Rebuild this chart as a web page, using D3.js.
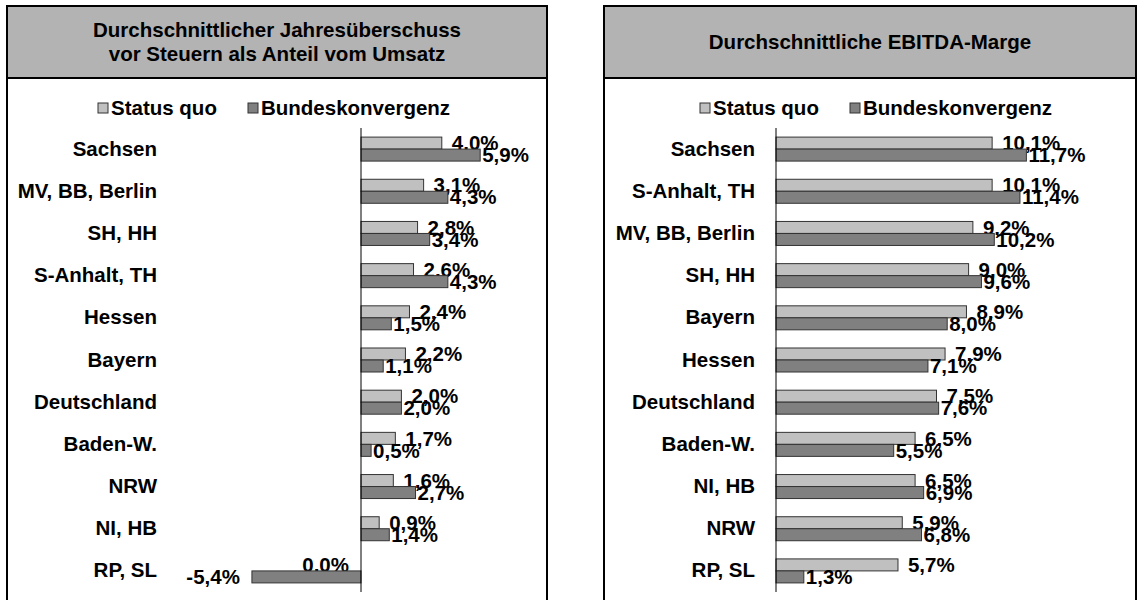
<!DOCTYPE html>
<html>
<head>
<meta charset="utf-8">
<script src="https://cdn.jsdelivr.net/npm/d3@7"></script>
<style>
    body { margin: 0; background: #fff; }
    svg { display: block; font-family: Arial, "Liberation Sans", sans-serif; font-weight: bold; }
</style>
</head>
<body>
<svg id="chart" width="1137" height="600"></svg>
<script>
/*---------------------------------- data ----------------------------------*/

var seriesNames = ["Status quo", "Bundeskonvergenz"];

//left panel: Jahresueberschuss vor Steuern
var regionsLeft = ["Sachsen", "MV, BB, Berlin", "SH, HH", "S-Anhalt, TH", "Hessen", "Bayern",
    "Deutschland", "Baden-W.", "NRW", "NI, HB", "RP, SL"];
var statusLeft = [4.0, 3.1, 2.8, 2.6, 2.4, 2.2, 2.0, 1.7, 1.6, 0.9, 0.0];
var bundLeft = [5.9, 4.3, 3.4, 4.3, 1.5, 1.1, 2.0, 0.5, 2.7, 1.4, -5.4];

//right panel: EBITDA-Marge
var regionsRight = ["Sachsen", "S-Anhalt, TH", "MV, BB, Berlin", "SH, HH", "Bayern", "Hessen",
    "Deutschland", "Baden-W.", "NI, HB", "NRW", "RP, SL"];
var statusRight = [10.1, 10.1, 9.2, 9.0, 8.9, 7.9, 7.5, 6.5, 6.5, 5.9, 5.7];
var bundRight = [11.7, 11.4, 10.2, 9.6, 8.0, 7.1, 7.6, 5.5, 6.9, 6.8, 1.3];

var titleLeft = ["Durchschnittlicher Jahresüberschuss", "vor Steuern als Anteil vom Umsatz"];
var titleRight = ["Durchschnittliche EBITDA-Marge"];

/*---------------------------------- chart ----------------------------------*/

var colors = ["#c0c0c0", "#808080"];
var fontSize = "20.5px";
var svg = d3.select("#chart");

//german number format, plain hyphen for negatives
var fmt = function (v) { return d3.format(".1f")(v).replace(".", ",").replace("\u2212", "-") + "%"; };

drawPanel({
    left: 7, right: 547, title: titleLeft,
    regions: regionsLeft, values: [statusLeft, bundLeft],
    domain: [-6, 9], zeroX: 361, pxPerUnit: 20.2,
    labelRight: 157, legendX: 98
});

drawPanel({
    left: 604, right: 1136, title: titleRight,
    regions: regionsRight, values: [statusRight, bundRight],
    domain: [0, 12], zeroX: 776, pxPerUnit: 21.4,
    labelRight: 755, legendX: 700
});

function drawPanel(o) {
    var g = svg.append("g");
    var top = 6, titleBottom = 78;

    //title box
    g.append("rect")
        .attr("x", o.left).attr("y", top)
        .attr("width", o.right - o.left).attr("height", titleBottom - top)
        .style("fill", "#b3b3b3").style("stroke", "#000").style("stroke-width", 2);
    //side borders of the white area (open at the bottom)
    g.append("path")
        .attr("d", "M" + o.left + "," + titleBottom + "V602M" + o.right + "," + titleBottom + "V602")
        .style("fill", "none").style("stroke", "#000").style("stroke-width", 2);

    var cx = (o.left + o.right) / 2;
    var lineH = 24;
    var firstY = (top + titleBottom) / 2 - (o.title.length - 1) * lineH / 2;
    g.selectAll(".title")
        .data(o.title)
        .enter().append("text")
        .attr("x", cx)
        .attr("y", function (d, i) { return firstY + i * lineH; })
        .attr("dy", "0.35em")
        .attr("text-anchor", "middle")
        .style("font-size", fontSize)
        .text(function (d) { return d; });

    //legend
    var legend = g.append("g").attr("transform", "translate(" + o.legendX + ",108)");
    var item = legend.selectAll(".item")
        .data(seriesNames)
        .enter().append("g")
        .attr("transform", function (d, i) { return "translate(" + (i * 150) + ",0)"; });
    item.append("rect")
        .attr("x", 0).attr("y", -5).attr("width", 10).attr("height", 10)
        .style("fill", function (d, i) { return colors[i]; })
        .style("stroke", "#333");
    item.append("text")
        .attr("x", 13).attr("dy", "0.35em")
        .style("font-size", fontSize)
        .text(function (d) { return d; });

    //scales
    var x = d3.scaleLinear()
        .domain(o.domain)
        .range([o.zeroX + o.domain[0] * o.pxPerUnit, o.zeroX + o.domain[1] * o.pxPerUnit]);
    var y = d3.scaleBand()
        .domain(o.regions)
        .range([128, 592])
        .paddingInner(0.431)
        .paddingOuter(0.2155);
    var ySub = d3.scaleBand()
        .domain(seriesNames)
        .range([0, y.bandwidth()]);

    //category labels
    var axis = g.append("g")
        .attr("transform", "translate(" + o.labelRight + ",0)")
        .call(d3.axisLeft(y).tickSize(0).tickPadding(0));
    axis.select(".domain").remove();
    axis.selectAll("text")
        .style("font-size", fontSize)
        .style("font-family", "Arial, 'Liberation Sans', sans-serif")
        .style("font-weight", "bold")
        .style("fill", "#000");

    //bars
    seriesNames.forEach(function (s, si) {
        var vals = o.values[si];
        g.selectAll(".bar" + si)
            .data(o.regions)
            .enter().append("rect")
            .attr("x", function (d, i) { return x(Math.min(0, vals[i])); })
            .attr("y", function (d) { return y(d) + ySub(s); })
            .attr("width", function (d, i) { return Math.abs(x(vals[i]) - x(0)); })
            .attr("height", ySub.bandwidth())
            .style("fill", colors[si])
            .style("stroke", "#333")
            .style("stroke-width", 1);

        g.selectAll(".lab" + si)
            .data(o.regions)
            .enter().append("text")
            .attr("x", function (d, i) {
                if (vals[i] <= 0) return x(vals[i]) - 12;
                return x(vals[i]) + (si == 0 ? 10 : 2);
            })
            .attr("y", function (d) { return y(d) + ySub(s) + ySub.bandwidth() / 2; })
            .attr("dy", "0.35em")
            .attr("text-anchor", function (d, i) { return vals[i] <= 0 ? "end" : "start"; })
            .style("font-size", fontSize)
            .text(function (d, i) { return fmt(vals[i]); });
    });

    //zero line
    g.append("line")
        .attr("x1", x(0)).attr("x2", x(0))
        .attr("y1", 128).attr("y2", 592)
        .style("stroke", "#000").style("stroke-width", 1);
}
</script>
</body>
</html>
